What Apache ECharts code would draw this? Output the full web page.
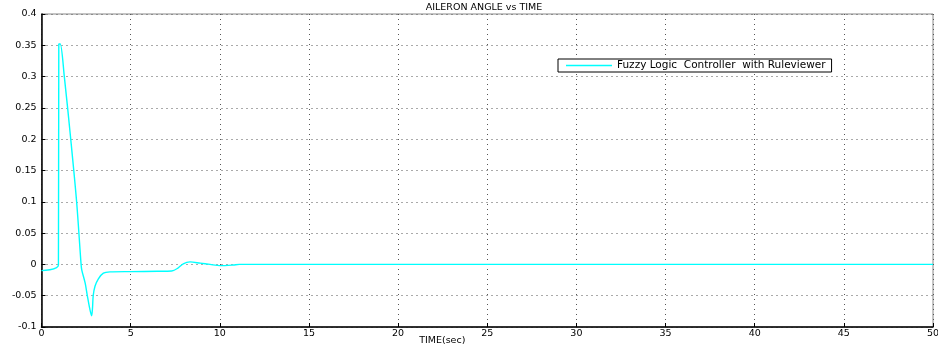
<!DOCTYPE html>
<html>
<head>
<meta charset="utf-8">
<script src="https://cdn.jsdelivr.net/npm/echarts@6/dist/echarts.min.js"></script>
<style>
  html, body { margin: 0; padding: 0; background: #fff; }
  #chart { width: 938px; height: 349px; }
</style>
</head>
<body>
<div id="chart"></div>
<script>
// Aileron deflection response (time in seconds, angle)
const timeSec = [0, 0.95, 0.97, 1.05, 1.28, 1.64, 1.97, 2.22, 2.26, 2.45, 2.57, 2.70, 2.81, 2.86, 2.90, 3.0, 3.19, 3.47, 3.84, 5.0, 6.5, 7.3, 7.65, 7.95, 8.33, 8.9, 9.45, 10.0, 10.75, 11.1, 20, 30, 40, 50];
const aileronAngle = [-0.01, -0.001, 0.352, 0.352, 0.30, 0.20, 0.10, 0.0, -0.009, -0.03, -0.05, -0.07, -0.082, -0.07, -0.05, -0.035, -0.023, -0.014, -0.012, -0.0115, -0.011, -0.0105, -0.006, 0.001, 0.004, 0.002, 0.0, -0.002, -0.001, 0.0, 0.0, 0.0, 0.0, 0.0];
const seriesName = 'Fuzzy Logic  Controller  with Ruleviewer';
const chartTitle = 'AILERON ANGLE vs TIME';
const xAxisName = 'TIME(sec)';

const points = timeSec.map((t, i) => [t, aileronAngle[i]]);

const chart = echarts.init(document.getElementById('chart'));
const fontFamily = 'DejaVu Sans, Verdana, sans-serif';

function fmtY(v) {
  const r = Math.round(v * 100) / 100;
  return String(r);
}

chart.setOption({
  animation: false,
  backgroundColor: '#ffffff',
  title: {
    text: chartTitle,
    left: 484,
    top: 3,
    padding: 0,
    textAlign: 'center',
    textStyle: { fontSize: 9.5, fontWeight: 'normal', color: '#000', fontFamily }
  },
  legend: {
    left: 558,
    top: 59,
    orient: 'horizontal',
    data: [{ name: seriesName, icon: 'rect' }],
    itemWidth: 46,
    itemHeight: 1.5,
    itemGap: 4,
    padding: [1, 6, 1, 8],
    borderColor: '#000',
    borderWidth: 1,
    borderRadius: 0,
    backgroundColor: '#fff',
    textStyle: { fontSize: 10.5, color: '#000', fontFamily }
  },
  grid: {
    left: 41.5,
    right: 5,
    top: 14,
    bottom: 22,
    outerBoundsMode: 'none',
    containLabel: false,
    show: true,
    borderColor: '#888',
    borderWidth: 1,
    backgroundColor: 'transparent'
  },
  xAxis: {
    type: 'value',
    min: 0,
    max: 50,
    interval: 5,
    name: xAxisName,
    nameLocation: 'middle',
    nameGap: 9,
    nameMoveOverlap: false,
    nameTextStyle: { fontSize: 9.5, color: '#000', fontFamily, padding: [0, 0, 0, -90] },
    axisLine: { show: true, onZero: false, lineStyle: { color: '#000', width: 1.5 } },
    axisTick: { show: true, inside: true, length: 4, lineStyle: { color: '#000' } },
    axisLabel: { fontSize: 9.5, color: '#000', fontFamily, margin: 2 },
    splitLine: { show: true, lineStyle: { color: '#555', type: [1, 4], width: 1 } }
  },
  yAxis: {
    type: 'value',
    min: -0.1,
    max: 0.4,
    interval: 0.05,
    axisLine: { show: true, onZero: false, lineStyle: { color: '#000', width: 1.5 } },
    axisTick: { show: true, inside: true, length: 4, lineStyle: { color: '#000' } },
    axisLabel: { fontSize: 9.5, color: '#000', fontFamily, margin: 5, formatter: fmtY },
    splitLine: { show: true, lineStyle: { color: '#555', type: [1, 4], width: 1 } }
  },
  series: [{
    name: seriesName,
    type: 'line',
    data: points,
    showSymbol: false,
    smooth: 0.3,
    lineStyle: { color: '#00ffff', width: 1.4 },
    itemStyle: { color: '#00ffff' }
  }]
});
</script>
</body>
</html>
